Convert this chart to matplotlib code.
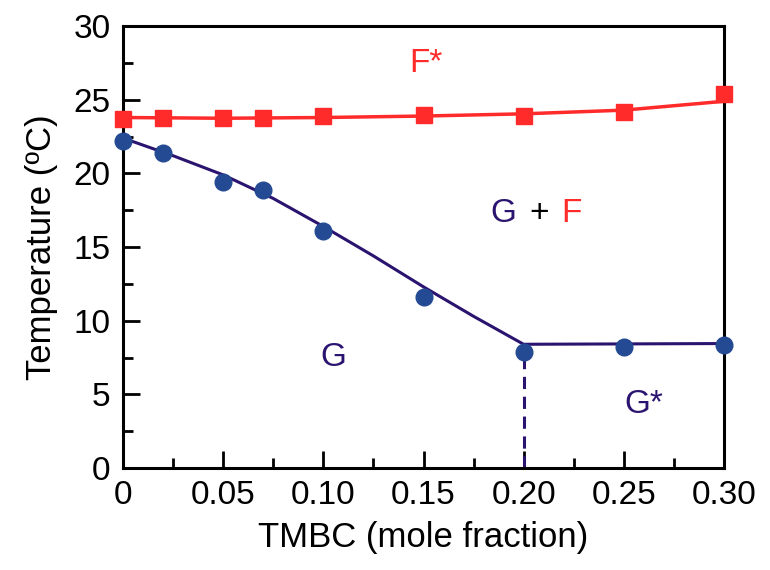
import matplotlib.pyplot as plt
from matplotlib.ticker import MultipleLocator, FixedLocator

plt.rcParams['font.family'] = ['Liberation Sans', 'DejaVu Sans']

# measured points
x_pts = [0, 0.02, 0.05, 0.07, 0.10, 0.15, 0.20, 0.25, 0.30]
f_temp = [23.7, 23.8, 23.8, 23.8, 23.9, 24.0, 23.9, 24.2, 25.4]
g_temp = [22.2, 21.4, 19.4, 18.9, 16.1, 11.6, 7.9, 8.2, 8.35]

# boundary lines
f_line_x = [0, 0.05, 0.10, 0.15, 0.20, 0.25, 0.30]
f_line_y = [23.8, 23.75, 23.8, 23.9, 24.05, 24.3, 24.9]
g_line_x = [0, 0.025, 0.05, 0.075, 0.10, 0.125, 0.15, 0.175, 0.20, 0.30]
g_line_y = [22.4, 21.2, 19.9, 18.3, 16.4, 14.4, 12.3, 10.3, 8.4, 8.45]
x_ticks = [0, 0.05, 0.10, 0.15, 0.20, 0.25, 0.30]
x_ticklabels = ['0', '0.05', '0.10', '0.15', '0.20', '0.25', '0.30']

red = '#ff2a2a'
purple = '#2b1470'
dot = '#244a93'

fig = plt.figure(figsize=(7.7, 5.7), dpi=100)
ax = fig.add_axes([0.160, 0.179, 0.780, 0.775])

ax.plot(f_line_x, f_line_y, color=red, lw=2.5, zorder=2)
ax.plot(x_pts, f_temp, 's', color=red, ms=11.5, clip_on=False, zorder=3)
ax.plot(g_line_x, g_line_y, color=purple, lw=2.2, zorder=2)
ax.plot(x_pts, g_temp, 'o', color=dot, ms=12, clip_on=False, zorder=3)
ax.plot([0.20, 0.20], [0, 8.0], color=purple, lw=2.2, ls=(0, (4, 2.5)), zorder=2)

fs = 24
ax.text(0.151, 27.5, 'F*', color=red, fontsize=fs, ha='center', va='center')
ax.text(0.190, 17.3, 'G', color=purple, fontsize=fs, ha='center', va='center')
ax.text(0.208, 17.3, '+', color='black', fontsize=fs, ha='center', va='center')
ax.text(0.224, 17.3, 'F', color=red, fontsize=fs, ha='center', va='center')
ax.text(0.105, 7.5, 'G', color=purple, fontsize=fs, ha='center', va='center')
ax.text(0.260, 4.3, 'G*', color=purple, fontsize=fs, ha='center', va='center')

ax.set_xlim(0, 0.30)
ax.set_ylim(0, 30)
ax.xaxis.set_major_locator(FixedLocator(x_ticks))
ax.set_xticklabels(x_ticklabels)
ax.xaxis.set_minor_locator(MultipleLocator(0.025))
ax.yaxis.set_major_locator(MultipleLocator(5))
ax.yaxis.set_minor_locator(MultipleLocator(2.5))
ax.tick_params(which='both', direction='in', top=False, right=False, width=2, labelsize=24, pad=9)
ax.tick_params(which='major', length=12)
ax.tick_params(which='minor', length=7)
for s in ax.spines.values():
    s.set_linewidth(2.2)

ax.set_xlabel('TMBC (mole fraction)', fontsize=25, labelpad=7)
ax.set_ylabel('Temperature (ºC)', fontsize=25, labelpad=11)

fig.savefig('out.png', dpi=100)
